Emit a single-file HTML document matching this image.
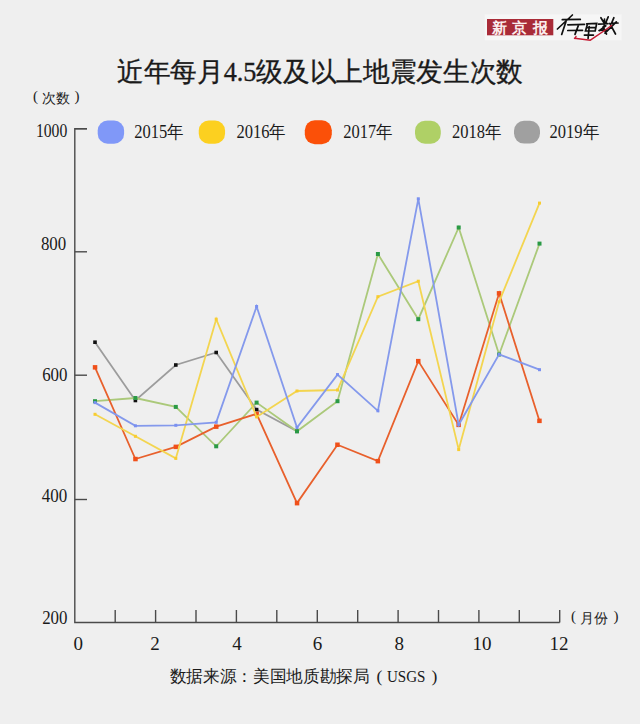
<!DOCTYPE html>
<html><head><meta charset="utf-8"><style>
html,body{margin:0;padding:0;background:#efefef;width:640px;height:724px;overflow:hidden}
svg{display:block;font-family:"Liberation Serif",serif}
</style></head><body>
<svg width="640" height="724" viewBox="0 0 640 724">
<rect width="640" height="724" fill="#efefef"/>
<!-- logo -->
<rect x="484.7" y="14.4" width="137" height="26" fill="#f6f6f6"/>
<rect x="487" y="19" width="66.3" height="16.3" fill="#a92b38"/>
<g font-size="15" font-weight="bold" fill="#fbeeee"><text x="491.6" y="33">新</text><text x="512.2" y="33">京</text><text x="533" y="33">报</text></g>
<g fill="none" stroke="#111" stroke-width="1.7" stroke-linecap="round">
<path d="M562.3 19.7 L580.3 19.4 M572.4 15 L557.4 29 M566.1 21.3 L561.7 34.4 M567.8 24.8 L584.4 24.4 M567.8 30.5 L582.5 30.3 M578.7 24.6 L575 34.4"/>
<path d="M586.6 23.9 L596.7 23.5 L595.2 31 L585.5 31 L587.4 24.2 M586.6 27.6 L595.8 27.4 M589.2 26.5 L588.1 38.3 M584.4 35.1 L593.4 35.1"/>
<path d="M600.9 17.7 L603.8 22.5 M608.2 16.9 L605.8 22.6 M598.5 24.2 L608 23.6 M604.5 19 L604 29 M613.9 17.7 L611.5 23.4 M611.8 23.4 L618 23 M609.8 23.4 L615.5 34 M616.3 21.8 L605 33.1 M605.8 25.8 L599.3 30.7 M599 30.5 L607 30 M603 27 L606.5 34"/>
</g>
<g fill="none" stroke="#c41a32" stroke-width="1.5" stroke-linecap="round" stroke-linejoin="round"><path d="M574.5 38.2 L590.4 40.2 L606 29.5 L611.5 25.5"/><path d="M575 38.5 L576 36.5"/></g>
<!-- title -->
<text x="117" y="80.5" font-size="26.5" textLength="406" lengthAdjust="spacingAndGlyphs" fill="#1a1a1a" stroke="#1a1a1a" stroke-width="0.35">近年每月4.5级及以上地震发生次数</text>
<!-- units -->
<g font-size="14" fill="#222">
<text x="33" y="101" font-size="15">(</text><text x="42" y="102.5">次数</text><text x="74.5" y="101" font-size="15">)</text>
<text x="571" y="621" font-size="15">(</text><text x="580" y="622.5">月份</text><text x="613.5" y="621" font-size="15">)</text>
</g>
<!-- legend -->
<g fill="#1a1a1a">
<rect x="97.7" y="120.6" width="26.4" height="23.2" rx="10" fill="#8098f8"/><text x="134.2" y="137.8" textLength="49.5" lengthAdjust="spacingAndGlyphs" font-size="18">2015年</text><rect x="198.75" y="120.6" width="26.3" height="23.2" rx="10" fill="#fcd020"/><text x="236.4" y="137.8" textLength="49.5" lengthAdjust="spacingAndGlyphs" font-size="18">2016年</text><rect x="304.8" y="120.2" width="27" height="24" rx="10" fill="#fb5008"/><text x="343.25" y="137.8" textLength="49.5" lengthAdjust="spacingAndGlyphs" font-size="18">2017年</text><rect x="415" y="120.8" width="25.8" height="23" rx="10" fill="#afd066"/><text x="452.0" y="137.8" textLength="49.5" lengthAdjust="spacingAndGlyphs" font-size="18">2018年</text><rect x="514" y="120.8" width="26" height="22.8" rx="10" fill="#a0a0a0"/><text x="549.5" y="137.8" textLength="49.5" lengthAdjust="spacingAndGlyphs" font-size="18">2019年</text>
</g>
<!-- axes -->
<g stroke="#4a4a4a" stroke-width="1.4" fill="none">
<polyline points="87,128.7 74.8,128.7 74.8,622.5 559.7,622.5"/>
<line x1="115.2" y1="610" x2="115.2" y2="622.5"/><line x1="155.6" y1="610" x2="155.6" y2="622.5"/><line x1="196.0" y1="610" x2="196.0" y2="622.5"/><line x1="236.4" y1="610" x2="236.4" y2="622.5"/><line x1="276.8" y1="610" x2="276.8" y2="622.5"/><line x1="317.3" y1="610" x2="317.3" y2="622.5"/><line x1="357.7" y1="610" x2="357.7" y2="622.5"/><line x1="398.1" y1="610" x2="398.1" y2="622.5"/><line x1="438.5" y1="610" x2="438.5" y2="622.5"/><line x1="478.9" y1="610" x2="478.9" y2="622.5"/><line x1="519.3" y1="610" x2="519.3" y2="622.5"/><line x1="559.7" y1="610" x2="559.7" y2="622.5"/><line x1="74.8" y1="128.7" x2="87" y2="128.7"/><line x1="74.8" y1="251.8" x2="87" y2="251.8"/><line x1="74.8" y1="375.2" x2="87" y2="375.2"/><line x1="74.8" y1="499.5" x2="87" y2="499.5"/>
</g>
<g fill="#1a1a1a">
<text x="67.3" y="137.4" text-anchor="end" textLength="31.4" lengthAdjust="spacingAndGlyphs" font-size="18">1000</text><text x="66.2" y="250" text-anchor="end" textLength="25.3" lengthAdjust="spacingAndGlyphs" font-size="18">800</text><text x="67.5" y="381" text-anchor="end" textLength="25.3" lengthAdjust="spacingAndGlyphs" font-size="18">600</text><text x="67.3" y="502.4" text-anchor="end" textLength="25.5" lengthAdjust="spacingAndGlyphs" font-size="18">400</text><text x="67.5" y="624.2" text-anchor="end" textLength="25.3" lengthAdjust="spacingAndGlyphs" font-size="18">200</text>
<text x="78.2" y="650" text-anchor="middle" font-size="19">0</text><text x="155.0" y="650" text-anchor="middle" font-size="19">2</text><text x="236.9" y="650" text-anchor="middle" font-size="19">4</text><text x="317.5" y="650" text-anchor="middle" font-size="19">6</text><text x="399.2" y="650" text-anchor="middle" font-size="19">8</text><text x="482.0" y="650" text-anchor="middle" font-size="19">10</text><text x="559.1" y="650" text-anchor="middle" font-size="19">12</text>
</g>
<!-- data -->
<polyline points="95.0,342.2 135.4,400.5 175.8,365 216.2,352.5 256.6,409.6 297.0,431.3" fill="none" stroke="#9c9c9c" stroke-width="1.8" stroke-linejoin="miter"/><rect x="93.2" y="340.4" width="3.6" height="3.6" fill="#111111"/><rect x="133.6" y="398.7" width="3.6" height="3.6" fill="#111111"/><rect x="174.0" y="363.2" width="3.6" height="3.6" fill="#111111"/><rect x="214.4" y="350.7" width="3.6" height="3.6" fill="#111111"/><rect x="254.8" y="407.8" width="3.6" height="3.6" fill="#111111"/><rect x="295.2" y="429.5" width="3.6" height="3.6" fill="#111111"/><polyline points="95.0,401.2 135.4,398 175.8,406.9 216.2,446.3 256.6,402.6 297.0,431.3 337.5,401.25 377.9,254 418.3,319.2 458.7,227.5 499.1,354.5 539.5,243.6" fill="none" stroke="#abc97a" stroke-width="1.8" stroke-linejoin="miter"/><rect x="93.0" y="399.2" width="4" height="4" fill="#2a9a45"/><rect x="133.4" y="396.0" width="4" height="4" fill="#2a9a45"/><rect x="173.8" y="404.9" width="4" height="4" fill="#2a9a45"/><rect x="214.2" y="444.3" width="4" height="4" fill="#2a9a45"/><rect x="254.6" y="400.6" width="4" height="4" fill="#2a9a45"/><rect x="295.0" y="429.3" width="4" height="4" fill="#2a9a45"/><rect x="335.5" y="399.2" width="4" height="4" fill="#2a9a45"/><rect x="375.9" y="252.0" width="4" height="4" fill="#2a9a45"/><rect x="416.3" y="317.2" width="4" height="4" fill="#2a9a45"/><rect x="456.7" y="225.5" width="4" height="4" fill="#2a9a45"/><rect x="497.1" y="352.5" width="4" height="4" fill="#2a9a45"/><rect x="537.5" y="241.6" width="4" height="4" fill="#2a9a45"/><polyline points="95.0,367.3 135.4,459 175.8,446.8 216.2,426.6 256.6,413.8 297.0,503.1 337.5,444.75 377.9,461.1 418.3,361.1 458.7,424.9 499.1,293.3 539.5,420.9" fill="none" stroke="#e8602c" stroke-width="1.8" stroke-linejoin="miter"/><rect x="92.8" y="365.1" width="4.5" height="4.5" fill="#f0501a"/><rect x="133.2" y="456.8" width="4.5" height="4.5" fill="#f0501a"/><rect x="173.6" y="444.6" width="4.5" height="4.5" fill="#f0501a"/><rect x="214.0" y="424.4" width="4.5" height="4.5" fill="#f0501a"/><rect x="254.4" y="411.6" width="4.5" height="4.5" fill="#f0501a"/><rect x="294.8" y="500.9" width="4.5" height="4.5" fill="#f0501a"/><rect x="335.2" y="442.5" width="4.5" height="4.5" fill="#f0501a"/><rect x="375.6" y="458.9" width="4.5" height="4.5" fill="#f0501a"/><rect x="416.0" y="358.9" width="4.5" height="4.5" fill="#f0501a"/><rect x="456.4" y="422.6" width="4.5" height="4.5" fill="#f0501a"/><rect x="496.8" y="291.1" width="4.5" height="4.5" fill="#f0501a"/><rect x="537.2" y="418.6" width="4.5" height="4.5" fill="#f0501a"/><polyline points="95.0,414.3 135.4,436.3 175.8,458.4 216.2,319.2 256.6,416.9 297.0,391 337.5,390 377.9,296.7 418.3,281.2 458.7,449.6 499.1,301.8 539.5,203.1" fill="none" stroke="#f3d550" stroke-width="1.8" stroke-linejoin="miter"/><rect x="93.5" y="412.8" width="3" height="3" fill="#f8cc30"/><rect x="133.9" y="434.8" width="3" height="3" fill="#f8cc30"/><rect x="174.3" y="456.9" width="3" height="3" fill="#f8cc30"/><rect x="214.7" y="317.7" width="3" height="3" fill="#f8cc30"/><rect x="255.1" y="415.4" width="3" height="3" fill="#f8cc30"/><rect x="295.5" y="389.5" width="3" height="3" fill="#f8cc30"/><rect x="336.0" y="388.5" width="3" height="3" fill="#f8cc30"/><rect x="376.4" y="295.2" width="3" height="3" fill="#f8cc30"/><rect x="416.8" y="279.7" width="3" height="3" fill="#f8cc30"/><rect x="457.2" y="448.1" width="3" height="3" fill="#f8cc30"/><rect x="497.6" y="300.3" width="3" height="3" fill="#f8cc30"/><rect x="538.0" y="201.6" width="3" height="3" fill="#f8cc30"/><polyline points="95.0,402.6 135.4,425.8 175.8,425.3 216.2,422.3 256.6,306.5 297.0,427.5 337.5,374.6 377.9,410.8 418.3,198.8 458.7,424.8 499.1,354.3 539.5,369.7" fill="none" stroke="#8499ec" stroke-width="1.8" stroke-linejoin="miter"/><rect x="93.5" y="401.1" width="3" height="3" fill="#7a90f0"/><rect x="133.9" y="424.3" width="3" height="3" fill="#7a90f0"/><rect x="174.3" y="423.8" width="3" height="3" fill="#7a90f0"/><rect x="214.7" y="420.8" width="3" height="3" fill="#7a90f0"/><rect x="255.1" y="305.0" width="3" height="3" fill="#7a90f0"/><rect x="295.5" y="426.0" width="3" height="3" fill="#7a90f0"/><rect x="336.0" y="373.1" width="3" height="3" fill="#7a90f0"/><rect x="376.4" y="409.3" width="3" height="3" fill="#7a90f0"/><rect x="416.8" y="197.3" width="3" height="3" fill="#7a90f0"/><rect x="457.2" y="423.3" width="3" height="3" fill="#7a90f0"/><rect x="497.6" y="352.8" width="3" height="3" fill="#7a90f0"/><rect x="538.0" y="368.2" width="3" height="3" fill="#7a90f0"/>
<!-- source -->
<g font-size="16.7" fill="#1a1a1a"><text x="169.5" y="681.5" textLength="200" lengthAdjust="spacingAndGlyphs">数据来源：美国地质勘探局</text><text x="376.5" y="682" font-size="17.5">(</text><text x="387" y="681.5" textLength="38.5" lengthAdjust="spacingAndGlyphs">USGS</text><text x="431.5" y="682" font-size="17.5">)</text></g>
</svg>
</body></html>
